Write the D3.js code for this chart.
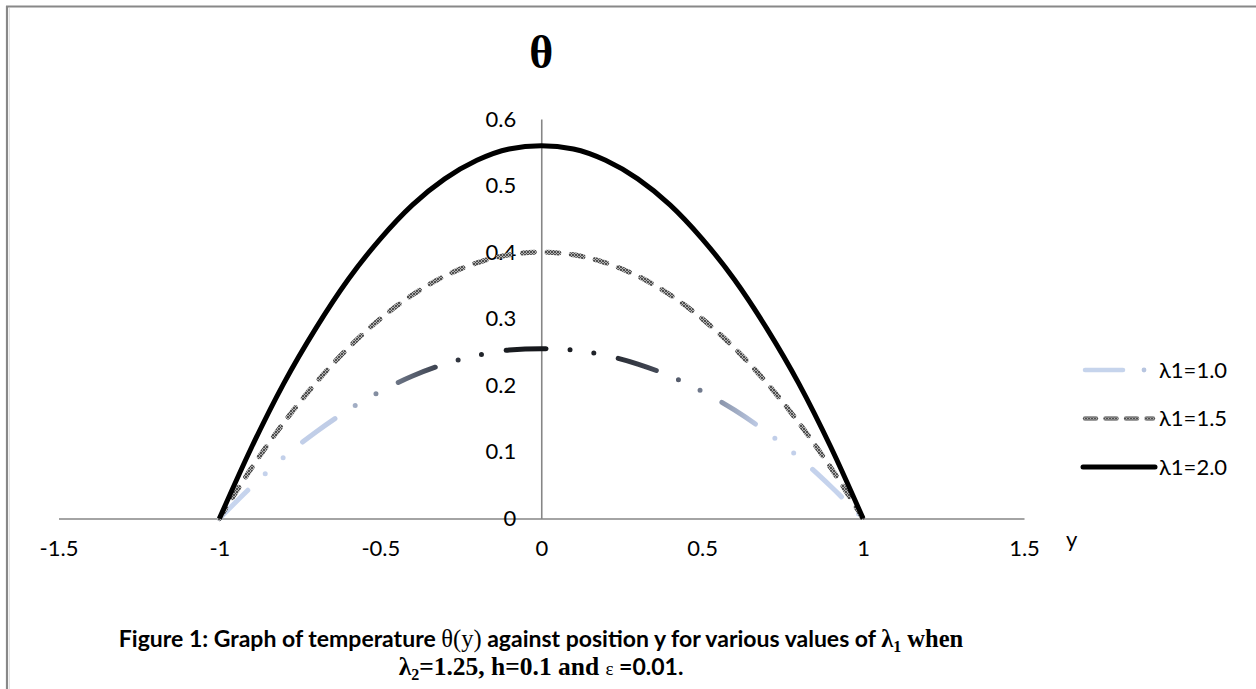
<!DOCTYPE html>
<html>
<head>
<meta charset="utf-8">
<script src="https://cdn.jsdelivr.net/npm/d3@7"></script>
<style>
body { margin: 0; background: #fff; }
svg { display: block; }
</style>
</head>
<body>
<div id="chart_parent"></div>
<script>
// values, y from -1 to 1 in steps of 0.1
const positions = [-1, -0.9, -0.8, -0.7, -0.6, -0.5, -0.4, -0.3, -0.2, -0.1, 0,
    0.1, 0.2, 0.3, 0.4, 0.5, 0.6, 0.7, 0.8, 0.9, 1];
const theta10 = [0, 0.048, 0.092, 0.130, 0.163, 0.191, 0.214, 0.232, 0.245, 0.253, 0.255,
    0.253, 0.245, 0.232, 0.214, 0.191, 0.163, 0.130, 0.092, 0.048, 0];
const theta15 = [0, 0.076, 0.144, 0.204, 0.256, 0.300, 0.336, 0.364, 0.384, 0.396, 0.400,
    0.396, 0.384, 0.364, 0.336, 0.300, 0.256, 0.204, 0.144, 0.076, 0];
const theta20 = [0, 0.107, 0.203, 0.286, 0.359, 0.420, 0.471, 0.510, 0.538, 0.555, 0.560,
    0.555, 0.538, 0.510, 0.471, 0.420, 0.359, 0.286, 0.203, 0.107, 0];
const seriesNames = ['λ1=1.0', 'λ1=1.5', 'λ1=2.0'];
const xTicks = [-1.5, -1, -0.5, 0, 0.5, 1, 1.5];
const yTicks = [0, 0.1, 0.2, 0.3, 0.4, 0.5, 0.6];

const chartConfig = {
    outerWidth: 1256,
    outerHeight: 689,
    xRange: [58.5, 1024],
    yRange: [518.5, 119],
    axisColour: '#868686',
    font: 'Lato, "Open Sans", sans-serif',
    serif: '"Liberation Serif", "DejaVu Serif", serif',
    legend: { x: 1083, lineLength: 72, top: 370, step: 48.5 },
};

function initialiseChartElements(rootSelector, config) {
    const svg = d3.select(rootSelector).append('svg')
        .attr('width', config.outerWidth)
        .attr('height', config.outerHeight);

    const defs = svg.append('defs');

    // the lambda=1 line fades from light blue at the walls to near black in the middle
    const grad = defs.append('linearGradient')
        .attr('id', 'grad10')
        .attr('gradientUnits', 'userSpaceOnUse');
    grad.selectAll('stop')
        .data([
            [0, '#c8d6ef'], [0.18, '#bfcce6'], [0.25, '#7d8799'], [0.34, '#3d4350'],
            [0.42, '#1c1f24'], [0.5, '#15171b'], [0.6, '#23262d'], [0.7, '#4c5261'],
            [0.76, '#7b8599'], [0.84, '#c0cde8'], [1, '#c8d6ef'],
        ])
        .join('stop')
        .attr('offset', d => d[0])
        .attr('stop-color', d => d[1]);

    // speckled texture of the lambda=1.5 dashes
    const hatch = defs.append('pattern')
        .attr('id', 'hatch15')
        .attr('patternUnits', 'userSpaceOnUse')
        .attr('width', 3)
        .attr('height', 3);
    hatch.append('rect').attr('width', 3).attr('height', 3).attr('fill', '#b0b0b0');
    hatch.append('path').attr('d', 'M0,0L3,3M0,3L3,0').attr('stroke', '#454545').attr('stroke-width', 0.9);

    const frame = svg.append('g').attr('class', 'frame');
    const axisGroup = svg.append('g').attr('class', 'axes');
    const lineGroup = svg.append('g').attr('class', 'lines');
    const legendGroup = svg.append('g').attr('class', 'legend');
    const textGroup = svg.append('g').attr('class', 'texts');

    return { svg, grad, frame, axisGroup, lineGroup, legendGroup, textGroup };
}

function seriesStyles() {
    return [
        { stroke: 'url(#grad10)', width: 5, dash: '40 24 0 24 0 25', cap: 'round' },
        { stroke: 'url(#hatch15)', width: 5, dash: '12 12.5', cap: 'round' },
        { stroke: '#000', width: 5, dash: null, cap: 'butt' },
    ];
}

function updateChart(config, elements) {
    const { grad, frame, axisGroup, lineGroup, legendGroup, textGroup } = elements;

    const xScale = d3.scaleLinear().domain([-1.5, 1.5]).range(config.xRange);
    const yScale = d3.scaleLinear().domain([0, 0.6]).range(config.yRange);

    grad.attr('x1', xScale(-1)).attr('x2', xScale(1))
        .attr('y1', 0).attr('y2', 0);

    // page frame, only the top and left edges show
    frame.append('line').attr('x1', 6).attr('x2', 1256).attr('y1', 6.5).attr('y2', 6.5)
        .attr('stroke', '#888').attr('stroke-width', 2);
    frame.append('line').attr('x1', 7).attr('x2', 7).attr('y1', 6).attr('y2', 689)
        .attr('stroke', '#888').attr('stroke-width', 2.2);
    frame.append('line').attr('x1', 9.5).attr('x2', 9.5).attr('y1', 8).attr('y2', 689)
        .attr('stroke', '#e2e2e2').attr('stroke-width', 1);

    const xAxis = d3.axisBottom(xScale)
        .tickValues(xTicks)
        .tickSize(0)
        .tickPadding(22)
        .tickFormat(d => String(d));
    const yAxis = d3.axisLeft(yScale)
        .tickValues(yTicks)
        .tickSize(0)
        .tickPadding(25)
        .tickFormat(d => String(d));

    const gx = axisGroup.append('g')
        .attr('transform', `translate(0,${yScale(0)})`)
        .call(xAxis);
    const gy = axisGroup.append('g')
        .attr('transform', `translate(${xScale(0)},0)`)
        .call(yAxis);

    [gx, gy].forEach(g => {
        g.select('.domain').attr('stroke', config.axisColour).attr('stroke-width', 1.6);
        g.selectAll('text')
            .attr('fill', '#000')
            .style('font-family', config.font)
            .style('font-size', '22px');
    });

    const series = [theta10, theta15, theta20];
    const styles = seriesStyles();
    const line = d3.line()
        .x((d, i) => xScale(positions[i]))
        .y(d => yScale(d))
        .curve(d3.curveMonotoneX);

    lineGroup.selectAll('path')
        .data(series)
        .join('path')
        .attr('d', line)
        .attr('fill', 'none')
        .attr('stroke', (d, i) => styles[i].stroke)
        .attr('stroke-width', (d, i) => styles[i].width)
        .attr('stroke-dasharray', (d, i) => styles[i].dash)
        .attr('stroke-linecap', (d, i) => styles[i].cap)
        .attr('stroke-linejoin', 'round');

    // legend
    const lg = config.legend;
    const rows = legendGroup.selectAll('g')
        .data(seriesNames)
        .join('g')
        .attr('transform', (d, i) => `translate(${lg.x},${lg.top + i * lg.step})`);

    rows.filter((d, i) => i === 0).each(function () {
        const g = d3.select(this);
        g.append('line').attr('x1', 2).attr('x2', 40).attr('y1', 0).attr('y2', 0)
            .attr('stroke', '#c6d4ec').attr('stroke-width', 4.5).attr('stroke-linecap', 'round');
        g.append('circle').attr('cx', 61).attr('cy', 0).attr('r', 2.4).attr('fill', '#b7c5e0');
    });
    rows.filter((d, i) => i === 1).append('line')
        .attr('x1', 2).attr('x2', lg.lineLength - 2).attr('y1', 0).attr('y2', 0)
        .attr('stroke', 'url(#hatch15)').attr('stroke-width', 4.5)
        .attr('stroke-linecap', 'round').attr('stroke-dasharray', '11 9.5');
    rows.filter((d, i) => i === 2).append('line')
        .attr('x1', 0).attr('x2', lg.lineLength).attr('y1', 0).attr('y2', 0)
        .attr('stroke', '#000').attr('stroke-width', 5).attr('stroke-linecap', 'round');

    rows.append('text')
        .attr('x', lg.lineLength + 4)
        .attr('dy', '0.36em')
        .style('font-family', config.font)
        .style('font-size', '22px')
        .text(d => d);

    // chart title and axis name
    textGroup.append('text')
        .attr('x', xScale(0))
        .attr('y', 68)
        .attr('text-anchor', 'middle')
        .style('font-family', config.serif)
        .style('font-weight', 'bold')
        .style('font-size', '46px')
        .text('θ');

    textGroup.append('text')
        .attr('x', 1066)
        .attr('y', 547)
        .style('font-family', config.font)
        .style('font-size', '22px')
        .text('y');

    // figure caption, two centred lines
    const cap1 = textGroup.append('text')
        .attr('x', 541)
        .attr('y', 647)
        .attr('text-anchor', 'middle')
        .style('font-weight', 'bold')
        .style('font-size', '23px')
        .style('font-family', config.font);
    cap1.append('tspan').text('Figure 1: Graph of temperature ');
    cap1.append('tspan').style('font-family', config.serif).style('font-weight', 'normal')
        .style('font-size', '24.5px').text('θ(y)');
    cap1.append('tspan').text(' against position y for various values of ');
    cap1.append('tspan').style('font-family', config.serif).style('font-size', '24.5px').text('λ');
    cap1.append('tspan').style('font-family', config.serif).style('font-size', '16px')
        .attr('dy', 5).text('1');
    cap1.append('tspan').style('font-family', config.serif).style('font-size', '24.5px')
        .attr('dy', -5).text(' when');

    const cap2 = textGroup.append('text')
        .attr('x', 541)
        .attr('y', 675)
        .attr('text-anchor', 'middle')
        .style('font-weight', 'bold')
        .style('font-size', '25.5px')
        .style('font-family', config.serif);
    cap2.append('tspan').text('λ');
    cap2.append('tspan').style('font-size', '16px').attr('dy', 5).text('2');
    cap2.append('tspan').attr('dy', -5).text('=1.25, h=0.1 and  ');
    cap2.append('tspan').style('font-weight', 'normal').style('font-size', '19px').text('ε');
    cap2.append('tspan').style('font-family', config.font).style('font-size', '23px').text(' =0.01.');
}

const chartElements = initialiseChartElements('#chart_parent', chartConfig);
updateChart(chartConfig, chartElements);
</script>
</body>
</html>
